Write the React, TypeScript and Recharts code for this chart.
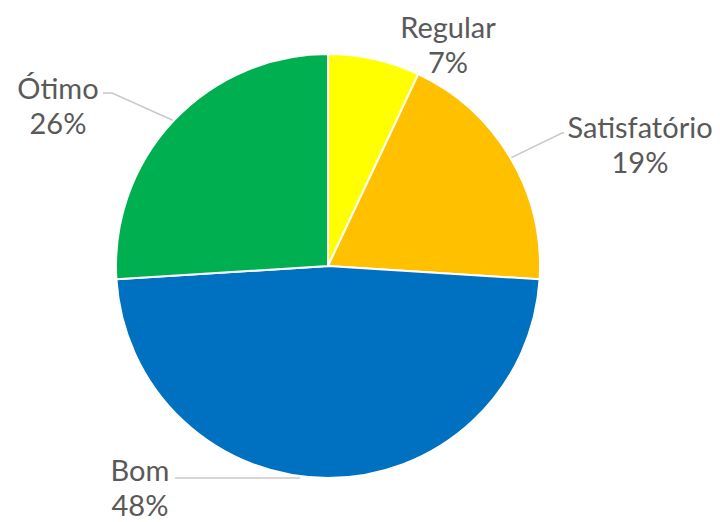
import React from "react";
import { PieChart, Pie, Cell } from "recharts";

const categories = ["Regular", "Satisfatório", "Bom", "Ótimo"];
const values = [7, 19, 48, 26];
const colors = ["#FFFF00", "#FFC000", "#0070C0", "#00B050"];

// label anchor offsets relative to pie centre (text centre of line 1)
const labelOffsets = [
  { dx: 120, dy: -240 },
  { dx: 312, dy: -140 },
  { dx: -188, dy: 203 },
  { dx: -270, dy: -179 },
];
// leader-line elbow offsets relative to pie centre (null = no line)
const leaderElbows: (null | { x: number; y: number; ex: number })[] = [
  null,
  { x: 234, y: -133, ex: 236 },
  { x: -28, y: 212, ex: -153 },
  { x: -216, y: -173, ex: -225 },
];

const data = categories.map((name, i) => ({ name, value: values[i] }));

const FONT = "Lato, 'Open Sans', sans-serif";
const RAD = Math.PI / 180;

const renderLabel = (props: any) => {
  const { cx, cy, midAngle, outerRadius, index, percent } = props;
  const off = labelOffsets[index];
  const tx = cx + off.dx;
  const ty = cy + off.dy;
  const elbow = leaderElbows[index];
  let line = null;
  if (elbow) {
    const sx = cx + (outerRadius + 1) * Math.cos(-midAngle * RAD);
    const sy = cy + (outerRadius + 1) * Math.sin(-midAngle * RAD);
    const pts =
      index === 2
        ? `${cx + elbow.x},${cy + elbow.y} ${cx + elbow.ex},${cy + elbow.y}`
        : `${sx},${sy} ${cx + elbow.x},${cy + elbow.y} ${cx + elbow.ex},${cy + elbow.y}`;
    line = <polyline points={pts} fill="none" stroke="#c8c8c8" strokeWidth={1.5} />;
  }
  return (
    <g key={`lbl-${index}`}>
      {line}
      <text
        x={tx}
        y={ty}
        textAnchor="middle"
        dominantBaseline="central"
        fill="#595959"
        fontFamily={FONT}
        fontSize={29}
      >
        {categories[index]}
      </text>
      <text
        x={tx}
        y={ty + 35}
        textAnchor="middle"
        dominantBaseline="central"
        fill="#595959"
        fontFamily={FONT}
        fontSize={29}
      >
        {`${Math.round(percent * 100)}%`}
      </text>
    </g>
  );
};

export default function App() {
  return (
    <div style={{ position: "absolute", left: 0, top: 0, background: "#fff" }}>
      <PieChart width={720} height={522} margin={{ top: 0, right: 0, bottom: 0, left: 0 }}>
        <Pie
          data={data}
          dataKey="value"
          nameKey="name"
          cx={328}
          cy={266}
          outerRadius={212}
          startAngle={90}
          endAngle={-270}
          stroke="#ffffff"
          strokeWidth={2}
          label={renderLabel}
          labelLine={false}
          isAnimationActive={false}
        >
          {data.map((d, i) => (
            <Cell key={d.name} fill={colors[i]} />
          ))}
        </Pie>
      </PieChart>
    </div>
  );
}
